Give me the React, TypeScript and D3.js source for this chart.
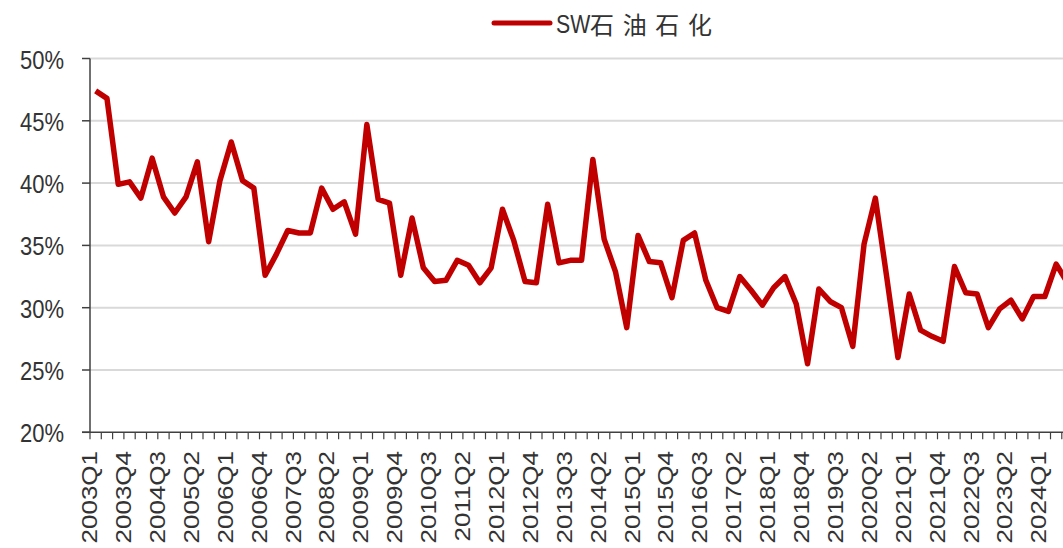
import * as d3 from 'd3'
import { useEffect, useRef } from 'react'

// quarterly share, 2003Q1 .. 2024Q3 (last point falls just past the right edge)
const startYear = 2003
const quarterCount = 87
const labelStep = 3

const values: number[] = [
  47.4, 46.8, 39.9, 40.1, 38.8, 42.0, 38.9, 37.6, 38.9, 41.7,
  35.3, 40.2, 43.3, 40.2, 39.6, 32.6, 34.3, 36.2, 36.0, 36.0,
  39.6, 37.9, 38.5, 35.9, 44.7, 38.7, 38.4, 32.6, 37.2, 33.2,
  32.1, 32.2, 33.8, 33.4, 32.0, 33.2, 37.9, 35.4, 32.1, 32.0,
  38.3, 33.6, 33.8, 33.8, 41.9, 35.5, 32.9, 28.4, 35.8, 33.7,
  33.6, 30.8, 35.4, 36.0, 32.2, 30.0, 29.7, 32.5, 31.4, 30.2,
  31.6, 32.5, 30.3, 25.5, 31.5, 30.5, 30.0, 26.9, 35.1, 38.8,
  32.5, 26.0, 31.1, 28.2, 27.7, 27.3, 33.3, 31.2, 31.1, 28.4,
  29.9, 30.6, 29.1, 30.9, 30.9, 33.5, 32.0
]

const yTicks = [20, 25, 30, 35, 40, 45, 50]
const seriesName = 'SW'
const seriesNameCn = '石油石化'

const categories = d3.range(quarterCount).map(i => `${startYear + Math.floor(i / 4)}Q${(i % 4) + 1}`)

const App = () => {
  const ref = useRef<SVGSVGElement>(null)

  useEffect(() => {
    document.body.style.margin = '0'
    if (!ref.current) return
    const svg = d3.select(ref.current)
    svg.selectAll('*').remove()

    const width = 1063
    const left = 90
    const step = 11.3
    const axisColor = '#404040'
    const textColor = '#333'
    const lineColor = '#c00000'

    const x = d3.scaleBand()
      .domain(categories)
      .range([left, left + step * categories.length])
      .padding(0)

    const y = d3.scaleLinear()
      .domain([20, 50])
      .range([432.3, 58.5])

    // gridlines
    svg.append('g')
      .selectAll('line')
      .data(yTicks.filter(t => t > 20))
      .enter()
      .append('line')
      .attr('x1', left)
      .attr('x2', width + 20)
      .attr('y1', d => y(d))
      .attr('y2', d => y(d))
      .attr('stroke', '#d9d9d9')
      .attr('stroke-width', 2)

    // y axis
    svg.append('line')
      .attr('x1', left).attr('x2', left)
      .attr('y1', y(50)).attr('y2', y(20))
      .attr('stroke', axisColor)
      .attr('stroke-width', 1.5)

    svg.append('g')
      .selectAll('line')
      .data(yTicks)
      .enter()
      .append('line')
      .attr('x1', left - 8).attr('x2', left)
      .attr('y1', d => y(d)).attr('y2', d => y(d))
      .attr('stroke', axisColor)
      .attr('stroke-width', 1.5)

    svg.append('g')
      .selectAll('text')
      .data(yTicks)
      .enter()
      .append('text')
      .attr('transform', d => `translate(64,${y(d) + 10}) scale(0.88,1)`)
      .attr('text-anchor', 'end')
      .style('font-family', '"Liberation Sans", Arial, sans-serif')
      .style('font-size', '25px')
      .style('fill', textColor)
      .text(d => `${d}%`)

    // x axis
    svg.append('line')
      .attr('x1', left - 8).attr('x2', width + 20)
      .attr('y1', y(20)).attr('y2', y(20))
      .attr('stroke', axisColor)
      .attr('stroke-width', 1.5)

    svg.append('g')
      .selectAll('line')
      .data(d3.range(categories.length + 1))
      .enter()
      .append('line')
      .attr('x1', i => left + i * x.bandwidth())
      .attr('x2', i => left + i * x.bandwidth())
      .attr('y1', y(20))
      .attr('y2', y(20) + 7)
      .attr('stroke', axisColor)
      .attr('stroke-width', 1.2)

    svg.append('g')
      .selectAll('text')
      .data(categories.filter((_, i) => i % labelStep === 0))
      .enter()
      .append('text')
      .attr('transform', d => `translate(${x(d)! + x.bandwidth() / 2 + 1.5},451) scale(0.83,1) rotate(-90)`)
      .attr('text-anchor', 'end')
      .style('font-family', '"Liberation Sans", Arial, sans-serif')
      .style('font-size', '26px')
      .style('fill', textColor)
      .text(d => d)

    // series line
    const line = d3.line<number>()
      .x((_, i) => x(categories[i])! + x.bandwidth() / 2)
      .y(d => y(d))

    svg.append('path')
      .datum(values)
      .attr('fill', 'none')
      .attr('stroke', lineColor)
      .attr('stroke-width', 5.5)
      .attr('stroke-linejoin', 'round')
      .attr('d', line)

    // legend
    const legend = svg.append('g')
    legend.append('line')
      .attr('x1', 494).attr('x2', 550)
      .attr('y1', 23).attr('y2', 23)
      .attr('stroke', lineColor)
      .attr('stroke-width', 5)
      .attr('stroke-linecap', 'round')
    legend.append('text')
      .attr('transform', 'translate(556,33) scale(0.85,1)')
      .style('font-family', '"Liberation Sans", Arial, sans-serif')
      .style('font-size', '25px')
      .style('fill', textColor)
      .text(seriesName)
    legend.append('text')
      .attr('x', 590)
      .attr('y', 34)
      .attr('textLength', 122)
      .attr('lengthAdjust', 'spacing')
      .style('font-family', '"Noto Sans CJK SC", sans-serif')
      .style('font-size', '24px')
      .style('fill', textColor)
      .text(seriesNameCn)
  }, [])

  return (
    <svg
      ref={ref}
      width={1063}
      height={548}
      style={{ display: 'block', background: '#fff' }}
    />
  )
}

export default App
